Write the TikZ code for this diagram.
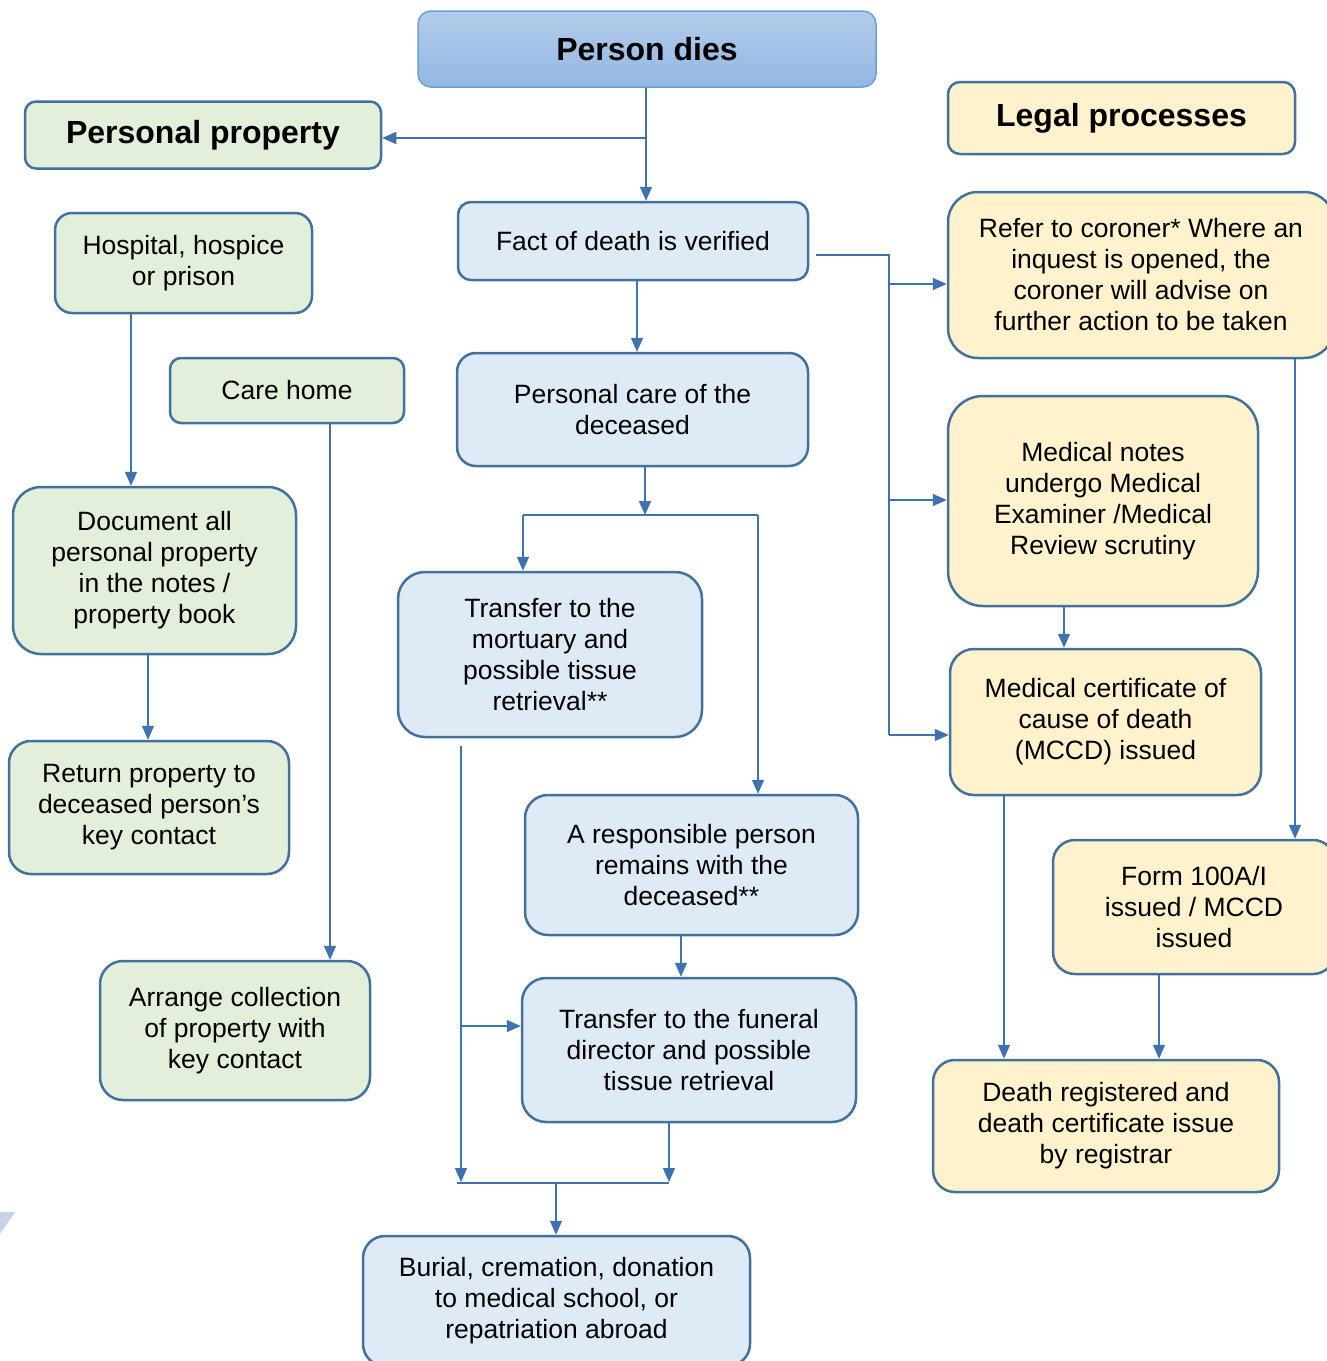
\documentclass[tikz,border=0pt]{standalone}
\usepackage{fontspec}
\setmainfont{Liberation Sans}
\usetikzlibrary{arrows.meta,calc}
\definecolor{bord}{HTML}{41719C}
\definecolor{gfill}{HTML}{E2EFDA}
\definecolor{bfill}{HTML}{DEEAF6}
\definecolor{yfill}{HTML}{FFF2CC}
\definecolor{lncol}{HTML}{3F72AF}
\definecolor{pdtop}{HTML}{B2CCEA}
\definecolor{pdbot}{HTML}{93B7E2}
\definecolor{pdbord}{HTML}{6A9FD8}
\definecolor{ghost}{HTML}{B8C8E0}
\begin{document}
\begin{tikzpicture}[x=1pt,y=-1pt,
  box/.style={draw=bord, line width=2.5pt, align=center, inner sep=0pt,
    font=\fontsize{26.5}{31}\selectfont},
  gbox/.style={box, fill=gfill},
  bbox/.style={box, fill=bfill},
  ybox/.style={box, fill=yfill},
  ttl/.style={font=\fontsize{32}{38}\selectfont\bfseries},
  conn/.style={draw=lncol, line width=1.5pt},
  arr/.style={conn, -{Triangle[length=14pt,width=12pt]}},
]
\useasboundingbox (0,0) rectangle (1327,1361);

% faint artefact at left edge
\fill[ghost, opacity=0.8] (0,1212) -- (15,1212) -- (0,1234) -- cycle;

% header boxes
\node[box, draw=pdbord, line width=1.5pt, top color=pdtop, bottom color=pdbot,
  minimum width=458pt, minimum height=76pt, rounded corners=13pt, ttl] (pd) at (647,49) {Person dies};
\node[gbox, minimum width=356pt, minimum height=67pt, rounded corners=11pt, ttl] (pp) at (203,135) {Personal property};
\node[ybox, minimum width=347pt, minimum height=72pt, rounded corners=12pt, ttl] (lp) at (1121.5,118) {Legal processes};

% personal property column
\node[gbox, minimum width=257pt, minimum height=100pt, rounded corners=17pt] (hosp) at (183.5,263) {Hospital, hospice\\or prison};
\node[gbox, minimum width=234pt, minimum height=65pt, rounded corners=11pt] (care) at (287,390.5) {Care home};
\node[gbox, minimum width=283pt, minimum height=167pt, rounded corners=28pt] (doc) at (154.5,570.5) {Document all\\personal property\\in the notes /\\property book};
\node[gbox, minimum width=280pt, minimum height=133pt, rounded corners=22pt] (ret) at (149,807.5) {Return property to\\deceased person’s\\key contact};
\node[gbox, minimum width=270pt, minimum height=139pt, rounded corners=23pt] (arrc) at (235,1030.5) {Arrange collection\\of property with\\key contact};

% central column
\node[bbox, minimum width=350pt, minimum height=78pt, rounded corners=13pt] (fact) at (633,241) {Fact of death is verified};
\node[bbox, minimum width=351pt, minimum height=113pt, rounded corners=19pt] (pcare) at (632.5,409.5) {Personal care of the\\deceased};
\node[bbox, minimum width=304pt, minimum height=165pt, rounded corners=27pt] (mort) at (550,654.5) {Transfer to the\\mortuary and\\possible tissue\\retrieval**};
\node[bbox, minimum width=333pt, minimum height=140pt, rounded corners=23pt] (resp) at (691.5,865) {A responsible person\\remains with the\\deceased**};
\node[bbox, minimum width=334pt, minimum height=144pt, rounded corners=24pt] (fun) at (689,1050) {Transfer to the funeral\\director and possible\\tissue retrieval};
\node[bbox, minimum width=387pt, minimum height=130pt, rounded corners=22pt] (bur) at (556.5,1301) {Burial, cremation, donation\\to medical school, or\\repatriation abroad};

% legal column
\node[ybox, minimum width=386pt, minimum height=166pt, rounded corners=30pt] (ref) at (1141,275) {Refer to coroner* Where an\\inquest is opened, the\\coroner will advise on\\further action to be taken};
\node[ybox, minimum width=310pt, minimum height=210pt, rounded corners=35pt] (mn) at (1103,501) {Medical notes\\undergo Medical\\Examiner /Medical\\Review scrutiny};
\node[ybox, minimum width=311pt, minimum height=146pt, rounded corners=24pt] (mc) at (1105.5,722) {Medical certificate of\\cause of death\\(MCCD) issued};
\node[ybox, minimum width=282pt, minimum height=134pt, rounded corners=22pt] (form) at (1194,907) {Form 100A/I\\issued / MCCD\\issued};
\node[ybox, minimum width=346pt, minimum height=132pt, rounded corners=22pt] (dr) at (1106,1126) {Death registered and\\death certificate issue\\by registrar};

% junction coordinates
\coordinate (j1) at (646,138);
\coordinate (j2) at (889,255);
\coordinate (j3) at (645,515);
\coordinate (j4) at (461,1026);
\coordinate (j5) at (556,1183);

% connectors: top
\draw[arr] (646,0 |- pd.south) -- (646,0 |- fact.north);
\draw[arr] (j1) -- (j1 -| pp.east);

% personal property
\draw[arr] (131,0 |- hosp.south) -- (131,0 |- doc.north);
\draw[arr] (330,0 |- care.south) -- (330,0 |- arrc.north);
\draw[arr] (148,0 |- doc.south) -- (148,0 |- ret.north);

% central
\draw[arr] (637,0 |- fact.south) -- (637,0 |- pcare.north);
\draw[arr] (645,0 |- pcare.south) -- (j3);
\draw[conn] (523,515) -- (758,515);
\draw[arr] (523,515) -- (523,0 |- mort.north);
\draw[arr] (758,515) -- (758,0 |- resp.north);
\draw[arr] ($(461,0 |- mort.south)+(0,8)$) -- (461,1182);
\draw[arr] (j4) -- (j4 -| fun.west);
\draw[arr] (681,0 |- resp.south) -- (681,0 |- fun.north);
\draw[arr] (669,0 |- fun.south) -- (669,1182);
\draw[conn] (457,1183) -- (669,1183);
\draw[arr] (j5) -- (j5 |- bur.north);

% legal
\draw[conn] ($(fact.east |- j2)+(7,0)$) -- (j2) -- (889,735);
\draw[arr] (889,284) -- (ref.west |- 0,284);
\draw[arr] (889,500) -- (mn.west |- 0,500);
\draw[arr] (889,735) -- (mc.west |- 0,735);
\draw[arr] (1295,0 |- ref.south) -- (1295,0 |- form.north);
\draw[arr] (1064,0 |- mn.south) -- (1064,0 |- mc.north);
\draw[arr] (1004,0 |- mc.south) -- (1004,0 |- dr.north);
\draw[arr] (1159,0 |- form.south) -- (1159,0 |- dr.north);
\end{tikzpicture}
\end{document}
